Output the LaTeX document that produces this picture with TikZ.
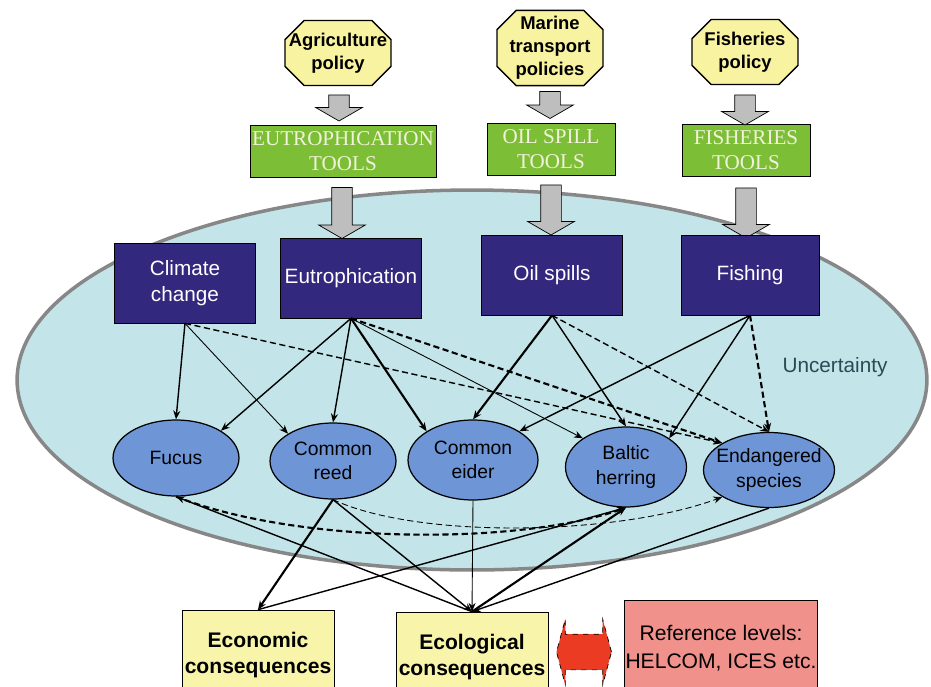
\documentclass[tikz,border=0pt]{standalone}
\usepackage{fontspec}
\setmainfont{Liberation Sans}
\newfontfamily\toolfont{Liberation Serif}
\usetikzlibrary{shapes.geometric,shapes.misc,shapes.arrows,arrows.meta}
\definecolor{polyellow}{RGB}{248,243,160}
\definecolor{toolgreen}{RGB}{125,190,55}
\definecolor{tooltext}{RGB}{242,242,218}
\definecolor{navy}{RGB}{50,40,125}
\definecolor{seablue}{RGB}{195,228,232}
\definecolor{seaedge}{RGB}{135,135,135}
\definecolor{specblue}{RGB}{110,150,215}
\definecolor{outyellow}{RGB}{248,244,170}
\definecolor{refpink}{RGB}{240,145,140}
\definecolor{arrowred}{RGB}{235,60,35}
\definecolor{unctext}{RGB}{40,75,85}
\definecolor{fatgrey}{RGB}{190,190,190}
\begin{document}
\begin{tikzpicture}
		[x=0.02cm, y=-0.02cm, >={Stealth[length=5pt,width=4pt]},
		policy/.style={chamfered rectangle, chamfered rectangle xsep=0.26cm, draw, fill=polyellow, line width=0.8pt, align=center, inner xsep=-5.5pt, inner ysep=0pt, minimum width=2.12cm, minimum height=1.3cm, font=\bfseries\fontsize{10.5}{13}\selectfont},
		tools/.style={rectangle, draw, fill=toolgreen, text=tooltext, align=center, inner sep=0pt, minimum width=2.56cm, minimum height=1.04cm, font=\toolfont\fontsize{12}{14}\selectfont},
		driver/.style={rectangle, draw, fill=navy, text=white, align=center, inner sep=0pt, minimum width=2.82cm, minimum height=1.6cm, font=\fontsize{11.8}{14.5}\selectfont},
		species/.style={ellipse, draw, fill=specblue, align=center, inner xsep=-6pt, inner ysep=0pt, minimum width=2.52cm, minimum height=1.52cm, line width=0.7pt, font=\fontsize{11}{14}\selectfont},
		outcome/.style={rectangle, draw, fill=outyellow, align=center, inner sep=0pt, minimum width=3.04cm, minimum height=1.8cm, font=\bfseries\fontsize{12}{14.7}\selectfont},
		reflevel/.style={rectangle, draw, fill=refpink, align=center, inner sep=0pt, minimum width=3.86cm, minimum height=1.92cm, font=\fontsize{12}{16}\selectfont},
		sea/.style={ellipse, draw=seaedge, fill=seablue, line width=2pt, minimum width=18.2cm, minimum height=7.6cm},
		fat/.style={single arrow, draw, fill=fatgrey, rotate=-90, single arrow head extend=0.26cm, single arrow tip angle=120, inner xsep=0pt, inner ysep=0.2cm},
		twoway/.style={double arrow, draw, dashed, fill=arrowred, double arrow head extend=0.3cm, double arrow tip angle=150, minimum height=1.1cm, inner xsep=0pt, inner ysep=0.35cm},
		weak/.style={line width=0.5pt},
		mid/.style={line width=0.8pt},
		strong/.style={line width=1.2pt},
		unsure/.style={dash pattern=on 3.5pt off 2pt}]
		\useasboundingbox (0,0) rectangle (931,687);
		\node (sea) [sea] at (472,380) {};
		\node (unc) [text=unctext, font=\fontsize{11.8}{14}\selectfont] at (835,367) {Uncertainty};
		\node (pa) [policy] at (338,53) {Agriculture\\policy};
		\node (pm) [policy, minimum height=1.4cm] at (550,48) {Marine\\transport\\policies};
		\node (pf) [policy] at (745,52) {Fisheries\\policy};
		\node (te) [tools, minimum width=3.72cm] at (343,151) {EUTROPHICATION\\TOOLS};
		\node (to) [tools] at (551,149) {OIL SPILL\\TOOLS};
		\node (tf) [tools] at (746,150) {FISHERIES\\TOOLS};
		\node (a1) [fat, minimum height=0.52cm] at (339,105) {};
		\node (a2) [fat, minimum height=0.54cm] at (550,102) {};
		\node (a3) [fat, minimum height=0.6cm] at (745,107) {};
		\node (b1) [fat, minimum height=1.02cm] at (342,210) {};
		\node (b2) [fat, minimum height=1.0cm] at (551,207) {};
		\node (b3) [fat, minimum height=1.0cm] at (746,210) {};
		\node (cc) [driver] at (185,283) {Climate\\change};
		\node (eu) [driver] at (351,278) {Eutrophication};
		\node (os) [driver] at (552,275) {Oil spills};
		\node (fi) [driver, minimum width=2.76cm] at (750,275) {Fishing};
		\node (fu) [species] at (176,458) {Fucus};
		\node (re) [species] at (333,461) {Common\\reed};
		\node (ei) [species, minimum width=2.6cm, minimum height=1.6cm] at (473,460) {Common\\eider};
		\node (he) [species, minimum width=2.42cm, minimum height=1.6cm] at (626,467) {Baltic\\herring};
		\node (en) [species, minimum width=2.62cm, minimum height=1.5cm] at (769,470) {Endangered\\species};
		\node (ec) [outcome] at (258,655) {Economic\\consequences};
		\node (el) [outcome] at (472,657) {Ecological\\consequences};
		\node (rl) [reflevel] at (721,648) {Reference levels:\\HELCOM, ICES etc.};
		\node (dbl) [twoway] at (584,652) {};
		\draw (cc.south) edge[->, mid] (fu.north);
		\draw (cc.south) edge[->, weak] (re.north west);
		\draw (cc.south) edge[->, mid, unsure] (en.north west);
		\draw (eu.south) edge[->, mid] (fu.north east);
		\draw (eu.south) edge[->, mid] (re.north);
		\draw (eu.south) edge[->, strong] (ei.north west);
		\draw (eu.south) edge[->, weak] (he.north west);
		\draw (eu.south) edge[->, strong, unsure] (en.north west);
		\draw (os.south) edge[->, strong] (ei.north);
		\draw (os.south) edge[->, mid] (he.north);
		\draw (os.south) edge[->, mid, unsure] (en.north);
		\draw (fi.south) edge[->, mid] (ei.north east);
		\draw (fi.south) edge[->, mid] (he.north east);
		\draw (fi.south) edge[->, strong, unsure] (en.north);
		\draw (el.north) edge[->, mid] (fu.south);
		\draw (re.south) edge[->, strong] (ec.north);
		\draw (re.south) edge[->, mid] (el.north);
		\draw (ei.south) edge[->, weak] (el.north);
		\draw (ec.north) edge[->, mid] (he.south);
		\draw (el.north) edge[->, strong] (he.south);
		\draw (en.south) edge[->, mid] (el.north);
		\draw[->, strong, unsure] (fu.south) .. controls (300,545) and (520,545) .. (he.south);
		\draw[->, weak, unsure] (re.south) .. controls (420,540) and (620,535) .. (en.south west);
	\end{tikzpicture}
\end{document}
